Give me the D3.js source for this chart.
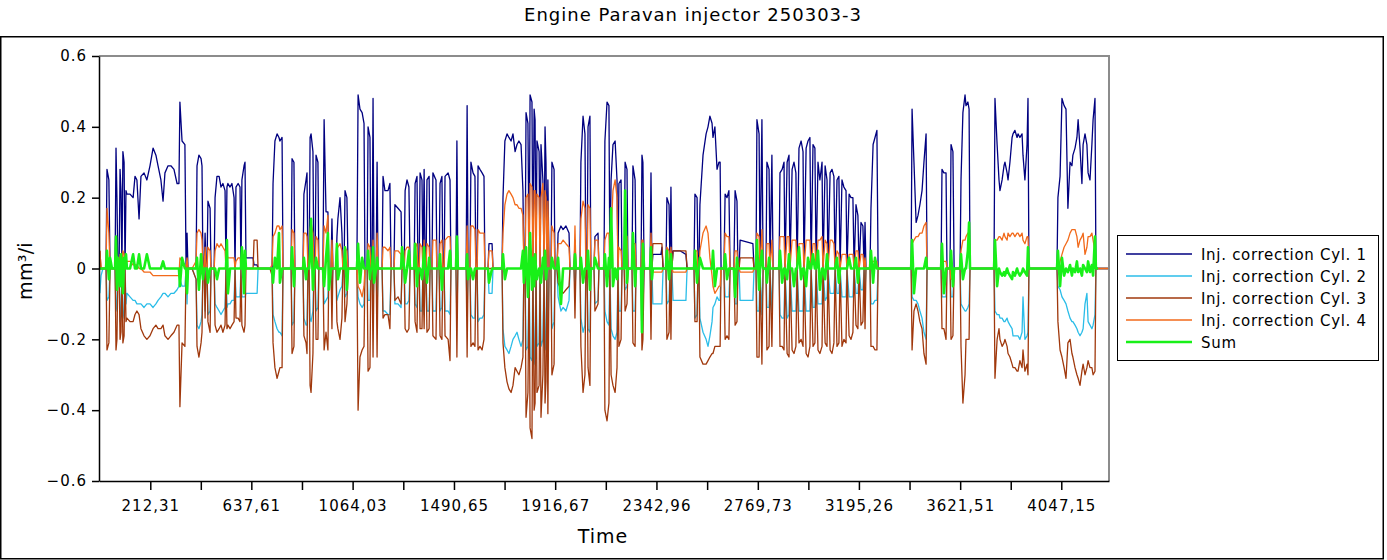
<!DOCTYPE html>
<html><head><meta charset="utf-8">
<script src="https://cdn.jsdelivr.net/npm/d3@7"></script>
<style>
body{margin:0;background:#fff;}
svg{display:block;font-family:"DejaVu Sans",Verdana,sans-serif;}
</style>
</head><body>
<svg id="chart" width="1387" height="560"></svg>
<script>
// ---------- chart text ----------
const chartTitle = "Engine Paravan injector 250303-3";
const xTitle = "Time";
const yTitle = "mm³/i";
const seriesNames = ["Inj. correction Cyl. 1","Inj. correction Cyl. 2","Inj. correction Cyl. 3","Inj. correction Cyl. 4","Sum"];
const seriesColors = ["#000080","#2bbde8","#a0380c","#f26a1b","#18f018"];
const seriesWidths = [1.3,1.3,1.3,1.3,2.6];

// ---------- ticks ----------
const yTickValues = [-0.6,-0.4,-0.2,0,0.2,0.4,0.6];
const xTickValues = [212.31,637.61,1064.03,1490.65,1916.67,2342.96,2769.73,3195.26,3621.51,4047.15];
const xTickLabels = ["212,31","637,61","1064,03","1490,65","1916,67","2342,96","2769,73","3195,26","3621,51","4047,15"];
const xMinorTicks = [424.96,850.82,1277.34,1703.66,2129.82,2556.35,2982.50,3408.39,3834.33];

// ---------- data (time, mm³/i) ----------
const time = [
0,5,13,26,30,38,43,51,64,68,72,76,81,85,89,93,97,102,106,110,
114,127,140,148,156,165,173,186,198,211,224,236,245,257,266,274,287,299,312,325,333,337,346,358,363,
367,371,388,405,409,417,426,430,434,439,443,447,451,455,464,468,481,485,493,502,510,518,527,531,535,539,548,556,565,569,573,582,590,594,598,607,611,615,632,645,649,662,666,
716,725,729,737,746,754,758,767,771,805,809,817,821,855,859,868,872,876,881,885,889,897,901,906,910,918,922,939,944,952,960,964,973,977,981,994,998,1002,1011,1019,1023,1028,1032,1040,1045,
1082,1087,1095,1104,1112,1116,1125,1129,1137,1141,1146,1150,1154,1163,1167,1171,1188,1192,1200,1213,1221,1226,1238,1242,1255,1268,1272,1281,1285,1293,1301,1306,
1323,1327,1335,1339,1344,1348,1356,1360,1365,1369,1373,1377,1386,1390,1398,1402,1415,1419,1428,1432,1440,1444,1449,1453,1466,1474,1478,1499,1503,1507,1512,1542,1546,1550,1558,1562,1571,1579,1583,1588,1592,1600,1609,1617,1621,1634,1638,1651,1655,
1693,1697,1705,1714,1722,1731,1739,1748,1756,1764,1773,1781,1785,1790,1794,1802,1807,1811,1819,1823,1828,1832,1836,1840,1849,1853,1857,1865,1870,1874,1878,1882,1886,1891,1899,1903,1912,1916,
1924,1929,1941,1950,1962,1975,1979,1996,2000,2004,2021,2025,2034,2042,2046,2051,2055,2063,2067,2080,2084,2097,2101,
2122,2126,2135,2143,2147,2152,2160,2169,2177,2181,2185,2194,2198,2207,2211,2219,2223,2240,2244,2253,2257,2278,2282,2286,2291,2316,2320,2324,2328,2362,2366,2371,2383,2387,2396,2400,2404,2408,2413,2442,2467,2472,2501,2505,2514,2518,
2522,2526,2539,2552,2560,2568,2577,2581,2589,2598,2606,2611,2615,2627,2632,2640,2648,2653,2669,2674,2682,2686,2691,2695,2749,2754,
2762,2766,2775,2779,2787,2792,2804,2808,2817,2821,2829,2834,2859,2863,2872,2880,2884,2893,2901,2905,2914,2922,2930,2935,2943,2952,2960,2964,2973,2981,2989,2994,3002,3010,3015,3023,3031,3040,3044,3053,3061,3065,3074,3082,3090,3095,3103,3111,3116,3124,3132,3141,3145,3154,3162,3170,3175,
3183,3191,3196,3204,3212,3217,3221,3225,3242,3246,3255,3263,3271,3276,3415,
3419,3427,3436,3444,3452,3461,3469,3478,3482,3541,
3545,3553,3562,3566,3579,3583,3591,3596,3621,3625,3633,3642,3646,3654,3659,3663,3764,
3768,3777,3785,3789,3798,3806,3810,3819,3823,3831,3840,3844,3852,3861,3865,3873,3882,3886,3894,3903,3907,3911,4029,
4033,4042,4050,4059,4067,4075,4084,4092,4096,4105,4113,4118,4126,4134,4139,4147,4155,4160,4168,4176,4181,4189,4193,4202,4244
];

const cyl1 = [
0,0,0,0,.28,.25,0,0,0,.34,.20,0,0,.28,.22,0,.33,.30,0,.22,
.21,.21,.20,.26,.25,.14,.26,.27,.25,.29,.34,.32,.29,.25,.19,.27,.29,.29,.28,.24,.24,.47,.36,.35,0,
.10,0,0,0,.29,.32,.31,.29,0,0,.10,0,0,.19,.17,0,0,.20,.26,.26,.23,.24,.22,0,.23,.24,.23,.24,.20,0,.23,.24,.23,0,.25,.29,.30,.03,.03,.03,.01,.01,0,
0,0,.24,.36,.38,.37,.36,.37,0,0,.31,.30,0,0,.21,.25,.27,0,0,.37,.38,.33,0,0,.32,.30,0,0,.42,.16,.16,0,0,.14,0,0,.09,.14,.20,.10,0,0,.22,.20,0,
0,.49,.45,.44,.41,0,0,.40,.37,0,0,.48,0,0,.30,0,0,.26,.22,.22,.24,0,0,.18,.17,.16,0,0,.22,.25,.23,0,
0,.24,.26,0,0,.27,.25,0,.28,0,0,.25,.26,0,0,.27,.25,0,0,.24,.26,0,0,.26,.27,.25,0,0,.36,0,0,0,.46,0,0,.30,.27,.26,0,0,.29,.28,.27,.26,0,0,.07,.07,0,
0,.20,.36,.38,.37,.36,.38,.33,.35,.36,.35,.22,0,0,.44,.41,0,.49,.47,0,.45,.42,0,.36,.33,0,.35,.25,0,.40,.30,0,.25,0,0,.30,.28,0,
0,.10,.12,.11,.12,.10,0,0,.08,0,0,.30,.43,.38,0,0,.40,.43,0,0,.09,.10,0,
0,.36,.47,.46,0,.25,.35,.36,.25,0,.24,.25,0,0,.30,.28,0,0,.29,.25,0,0,.32,.30,0,0,.27,0,.04,.04,.06,0,0,.20,.18,0,.23,0,.05,.05,.04,0,0,.21,.20,0,
0,.18,.32,.38,.40,.43,.41,.37,.40,.28,.30,.30,0,0,.21,.20,.22,0,0,.22,.19,0,0,.08,.07,0,
0,.42,.38,0,.42,0,0,.30,.28,0,.32,0,0,.27,.28,.30,0,.30,.32,0,.28,.30,.27,0,.34,.36,.33,0,.34,.36,.37,0,.35,.34,0,.30,.25,.30,0,.29,.25,0,.27,.28,.26,0,.25,.26,0,.25,.23,.22,0,.21,.20,.20,0,
.18,.15,0,.13,.12,0,.13,0,0,.17,.35,.37,.39,0,0,
.45,.30,.13,.15,.18,.22,.30,.38,0,0,
.28,.27,.27,0,0,.35,.33,0,0,.25,.44,.49,.46,.47,.45,0,0,
.48,.35,.25,.22,.25,.29,.30,.27,.25,.30,.37,.38,.39,.37,.38,.37,.38,.32,.25,.35,.48,0,0,
.20,.26,.48,.46,.45,.17,.30,.29,.32,.34,.37,.42,.34,.24,.35,.38,.35,.27,.25,.35,.42,.48,0,0,0
];

const cyl2 = [
-.07,-.02,0,0,-.09,-.08,0,0,0,-.12,-.10,0,0,-.15,-.12,0,-.14,-.12,0,-.10,
-.07,-.08,-.09,-.09,-.10,-.10,-.10,-.11,-.10,-.10,-.11,-.10,-.09,-.08,-.07,-.07,-.08,-.07,-.07,-.06,-.05,-.03,-.05,-.05,0,
-.10,0,0,-.03,-.16,-.17,-.15,-.13,0,0,-.12,0,0,-.13,-.12,0,0,-.10,-.11,-.12,-.13,-.12,-.11,0,-.11,-.10,-.10,-.09,-.09,0,-.08,-.08,-.08,0,-.08,-.08,-.08,-.07,-.07,-.07,-.07,-.07,0,
0,0,-.13,-.15,-.17,-.18,-.18,-.19,0,0,-.16,-.15,0,0,-.14,-.16,-.16,0,0,-.14,-.15,-.12,0,0,-.12,-.11,0,0,-.10,-.09,-.08,0,0,-.07,0,0,-.09,-.08,-.06,-.05,0,0,-.08,-.07,0,
0,-.08,-.10,-.11,-.10,0,0,-.09,-.09,0,0,-.11,0,0,-.12,0,0,-.12,-.12,-.13,-.13,0,0,-.10,-.10,-.11,0,0,-.10,-.10,-.09,0,
0,-.10,-.11,0,0,-.12,-.12,0,-.13,0,0,-.12,-.12,0,0,-.12,-.12,0,0,-.12,-.11,0,0,-.12,-.12,-.13,0,0,-.14,0,0,0,-.13,0,0,-.13,-.14,-.14,0,0,-.15,-.14,-.14,-.13,0,0,-.07,-.07,0,
0,-.17,-.22,-.23,-.24,-.22,-.20,-.19,-.18,-.20,-.22,-.20,0,0,-.23,-.22,0,-.25,-.26,0,-.27,-.24,0,-.22,-.21,0,-.22,-.20,0,-.23,-.21,0,-.20,0,0,-.17,-.15,0,
0,-.08,-.12,-.11,-.12,-.09,0,0,-.06,0,0,-.14,-.18,-.16,0,0,-.17,-.18,0,0,-.10,-.09,0,
0,-.12,-.15,-.16,0,-.17,-.19,-.20,-.18,0,-.12,-.12,0,0,-.06,-.05,0,0,-.12,-.12,0,0,-.13,-.12,0,0,-.10,0,-.10,-.10,-.10,0,0,-.10,-.09,0,-.10,0,-.09,-.09,-.09,0,0,-.14,-.13,0,
0,-.14,-.18,-.20,-.22,-.19,-.15,-.11,-.10,-.08,-.09,-.09,0,0,-.08,-.08,-.08,0,0,-.10,-.10,0,0,-.09,-.09,0,
0,-.12,-.12,0,-.13,0,0,-.11,-.11,0,-.12,0,0,-.13,-.14,-.14,0,-.14,-.13,0,-.12,-.12,-.12,0,-.12,-.12,-.12,0,-.12,-.12,-.12,0,-.11,-.11,0,-.10,-.10,-.10,0,-.09,-.08,0,-.07,-.07,-.07,0,-.07,-.07,0,-.08,-.08,-.08,0,-.08,-.08,-.08,0,
-.07,-.07,0,-.06,-.06,0,-.06,0,0,-.10,-.10,-.09,-.09,0,0,
-.08,-.09,-.09,-.10,-.12,-.14,-.18,-.20,0,0,
-.08,-.08,-.08,0,0,-.08,-.08,0,0,-.10,-.11,-.12,-.12,-.11,-.10,0,0,
-.12,-.13,-.13,-.14,-.14,-.15,-.15,-.14,-.15,-.16,-.17,-.19,-.19,-.19,-.19,-.20,-.18,-.08,-.20,-.19,-.18,0,0,
-.05,-.06,-.08,-.09,-.10,-.12,-.14,-.15,-.15,-.16,-.17,-.18,-.19,-.18,-.17,-.10,-.07,-.15,-.16,-.17,-.16,-.13,0,0,0
];

const cyl3 = [
.05,0,0,0,-.23,-.21,0,0,0,-.23,-.20,0,0,-.20,-.18,0,-.21,-.19,0,-.15,
-.14,-.15,-.15,-.13,-.12,-.13,-.17,-.19,-.20,-.19,-.17,-.16,-.17,-.17,-.16,-.19,-.20,-.19,-.18,-.16,-.16,-.39,-.21,-.22,0,
-.05,0,0,-.03,-.22,-.25,-.21,-.18,0,0,-.14,0,0,-.15,-.18,0,0,-.16,-.18,-.17,-.16,-.18,-.16,0,-.17,-.16,-.17,-.16,-.15,0,-.14,-.14,-.15,0,-.16,-.18,-.16,0,0,0,.08,.08,0,
0,-.02,-.21,-.28,-.31,-.29,-.28,-.28,0,0,-.24,-.22,0,0,-.19,-.21,-.24,0,0,-.33,-.35,-.24,0,0,-.20,-.20,0,0,-.23,-.18,-.23,0,0,-.17,0,0,-.15,-.17,-.20,-.14,0,0,-.15,-.10,0,
0,-.40,-.25,-.23,-.22,0,0,-.29,-.28,0,0,-.25,0,0,-.25,0,0,-.14,-.13,-.13,-.17,0,0,-.09,-.08,-.10,0,0,-.17,-.18,-.17,0,
0,-.15,-.18,0,0,-.17,-.17,0,-.17,0,0,-.18,-.17,0,0,-.19,-.20,0,0,-.19,-.20,0,0,-.19,-.20,-.26,0,0,-.25,0,0,0,-.25,0,0,-.22,-.21,-.22,0,0,-.23,-.22,-.23,-.20,0,0,0,0,0,
0,-.21,-.28,-.32,-.34,-.35,-.33,-.28,-.29,-.30,-.28,-.25,0,0,-.42,-.35,0,-.45,-.48,0,-.40,-.38,0,-.35,-.33,0,-.42,-.30,0,-.38,-.32,0,-.41,0,0,-.30,-.27,0,
0,-.04,-.06,-.07,-.06,-.05,0,0,-.14,0,0,-.22,-.35,-.30,0,0,-.28,-.33,0,0,-.12,-.10,0,
0,-.40,-.43,-.38,0,-.30,-.33,-.35,-.28,0,-.22,-.20,0,0,-.12,-.10,0,0,-.21,-.22,0,0,-.23,-.20,0,0,-.20,0,.07,.07,.07,0,0,-.20,-.18,0,-.20,0,.05,.05,.05,0,0,-.15,-.15,0,
0,-.25,-.27,-.27,-.26,-.25,-.24,-.24,-.22,-.22,-.22,-.22,0,0,-.20,-.19,-.20,0,0,-.16,-.15,0,0,.03,.03,0,
0,-.25,-.25,0,-.27,0,0,-.23,-.22,0,-.22,0,0,-.22,-.22,-.23,0,-.24,-.25,0,-.23,-.24,-.22,0,-.21,-.20,-.22,0,-.24,-.25,-.22,0,-.22,-.21,0,-.23,-.24,-.22,0,-.21,-.22,0,-.23,-.24,-.21,0,-.22,-.21,0,-.22,-.20,-.21,0,-.19,-.20,-.18,0,
-.16,-.17,0,-.16,-.15,0,-.17,0,0,-.22,-.22,-.23,-.23,0,0,
-.23,-.12,-.10,-.12,-.15,-.17,-.24,-.27,0,0,
-.17,-.17,-.20,0,0,-.20,-.19,0,0,-.22,-.38,-.30,-.20,-.20,-.20,0,0,
-.31,-.20,-.17,-.20,-.22,-.21,-.20,-.22,-.24,-.25,-.27,-.28,-.28,-.29,-.29,-.26,-.28,-.23,-.29,-.27,-.30,0,0,
-.15,-.23,-.25,-.28,-.31,-.21,-.20,-.24,-.25,-.28,-.30,-.31,-.33,-.29,-.27,-.30,-.28,-.26,-.28,-.28,-.30,-.29,0,0,0
];

const cyl4 = [
.05,0,0,0,.17,.10,0,0,0,.05,.03,0,0,.04,.03,0,.05,.04,0,.02,
.02,.02,.01,.01,.01,0,0,-.01,-.01,-.01,-.02,-.02,-.02,-.02,-.02,-.02,-.02,-.02,-.02,-.02,-.02,.03,.02,.01,0,
.03,0,0,.02,.10,.11,.10,.08,0,0,.06,0,0,.06,.05,0,0,.05,.07,.06,.07,.06,.05,0,.04,.03,.03,.03,.03,0,.02,.03,.03,0,.03,.04,.04,0,0,0,0,0,0,
0,.01,.09,.10,.12,.12,.11,.12,0,0,.11,.10,0,0,.10,.10,.09,0,0,.11,.13,.10,0,0,.09,.08,0,0,.12,.10,.15,0,0,.08,0,0,.06,.06,.07,.05,0,0,.06,.05,0,
0,-.05,-.06,-.08,-.05,0,0,.07,.06,0,0,.08,0,0,.10,0,0,.06,.06,.05,.06,0,0,.05,.05,.04,0,0,.05,.06,.06,0,
0,.06,.07,0,0,.07,.06,0,.08,0,0,.07,.06,0,0,.08,.08,0,0,.07,.08,0,0,.08,.09,.09,0,0,.09,0,0,0,.12,0,0,.12,.12,.11,0,0,.11,.10,.10,.10,0,0,.05,.05,0,
0,.10,.18,.21,.22,.21,.20,.18,.18,.17,.17,.15,0,0,.20,.21,0,.24,.23,0,.22,.22,0,.21,.20,0,.20,.24,0,.22,.20,0,.19,0,0,.12,.10,0,
0,.07,.07,.08,.07,.06,0,0,.12,0,0,.14,.19,.17,0,0,.18,.17,0,0,.08,.08,0,
0,.08,.10,.10,0,.10,.22,.25,.20,0,.06,.05,0,0,.10,.09,0,0,.07,.07,0,0,.08,.08,0,0,.10,0,-.01,-.01,-.01,0,0,.06,.05,0,.06,0,-.01,-.01,-.01,0,0,.05,.05,0,
0,.05,.10,.12,.10,.03,-.02,-.05,-.07,-.06,-.05,-.05,0,0,.10,.09,.09,0,0,.05,.05,0,0,-.01,-.01,0,
0,.10,.09,0,.11,0,0,.07,.07,0,.08,0,0,.09,.09,.09,0,.09,.09,0,.08,.08,.08,0,.07,.07,.07,0,.08,.08,.08,0,.07,.07,0,.08,.08,.09,0,.08,.07,0,.08,.08,.07,0,.05,.04,0,.04,.04,.04,0,.04,.04,.04,0,
.05,.05,0,.04,.04,0,.03,0,0,.02,.02,.02,.02,0,0,
.07,.08,.09,.09,.10,.10,.12,.13,0,0,
.02,.02,.02,0,0,-.03,-.03,0,0,.05,.08,.08,.09,.10,.10,0,0,
.08,.08,.09,.09,.08,.10,.09,.08,.10,.09,.10,.10,.09,.10,.10,.09,.10,.08,.07,.09,.09,0,0,
0,.02,.04,.06,.07,.08,.10,.11,.11,.11,.09,.06,.08,.09,.10,.04,.06,.09,.09,.10,.08,.05,0,0,0
];

const sum = [
0,0,0,0,.05,-.03,.03,0,0,.09,-.06,.03,0,-.05,.04,0,-.07,.03,0,.04,
0,0,.04,0,0,.04,0,0,.04,0,0,0,0,0,.02,0,0,0,0,0,0,-.05,.03,0,0,
-.07,0,0,0,.03,-.06,.04,0,-.03,0,0,0,0,-.04,0,0,0,0,-.03,0,0,0,0,0,.08,-.07,0,0,0,0,0,0,0,0,.06,-.07,.05,0,0,0,0,0,0,
0,0,-.04,.03,0,.10,-.04,0,0,0,.06,-.05,0,0,.03,-.03,0,0,0,.04,.14,-.06,0,0,.03,0,0,0,-.05,.03,.10,-.06,0,0,0,0,.07,-.03,0,0,0,0,.06,-.06,0,
0,.07,-.04,.03,0,0,0,.05,-.03,0,0,.06,-.04,0,.03,0,0,0,0,0,0,0,0,0,0,0,.06,0,-.04,0,.05,0,
0,.07,-.05,0,0,0,-.03,0,.06,0,0,-.04,.03,0,0,0,0,0,0,.04,-.06,0,0,0,0,.05,0,0,.09,0,0,0,.04,-.03,0,0,-.03,0,0,0,0,0,0,0,0,0,-.04,0,0,
0,.04,-.03,0,0,0,0,0,0,0,0,.05,-.04,0,.06,-.08,0,.10,-.06,.03,-.05,.04,0,-.03,0,0,-.04,.03,0,.05,-.03,0,0,0,0,.03,0,0,
0,.03,-.10,0,0,0,0,0,.04,0,0,.03,-.04,0,0,0,.05,-.06,0,0,.03,0,0,
0,.04,-.05,.03,0,.17,-.05,0,-.03,0,0,0,0,0,.22,-.04,0,0,.10,-.05,0,0,-.18,.07,0,0,.06,-.03,0,0,0,0,0,.05,-.03,0,.04,0,0,0,0,0,0,.05,-.04,0,
0,.03,0,0,0,0,0,.05,-.05,0,0,0,0,0,.04,-.03,0,0,0,-.08,.03,0,0,0,0,0,
0,.08,-.06,0,.05,0,0,-.04,.03,0,0,0,0,.05,-.04,0,0,-.03,.04,0,0,-.05,0,0,.06,-.03,0,0,-.05,.03,0,0,.04,0,0,.05,-.06,0,0,-.03,.04,0,0,0,0,0,.03,-.04,0,0,0,0,0,.03,0,0,0,
.03,-.04,0,0,0,0,0,0,0,.05,-.04,.03,0,0,0,
.08,-.07,0,0,0,0,0,.03,0,0,
.07,-.07,0,0,0,.05,-.05,0,0,.04,-.03,0,0,.05,.13,0,0,
.08,-.05,0,-.01,-.02,-.01,-.02,0,-.01,-.02,-.03,-.01,-.02,0,-.01,-.02,-.01,0,-.01,-.02,.06,0,0,
.05,-.05,.03,-.02,0,-.01,.01,-.02,0,-.01,.02,-.01,0,-.02,.01,0,-.01,.02,-.01,.01,-.02,.09,0,0,null
];

const seriesValues = [cyl1, cyl2, cyl3, cyl4, sum];
seriesValues.forEach((a,i)=>{ if(a.length!==time.length) console.error("length mismatch", seriesNames[i], a.length, time.length); });

// ---------- layout ----------
const plot = {left:99, right:1109, top:56, bottom:481};
const svg = d3.select("#chart");

svg.append("rect").attr("x",0.75).attr("y",36.75).attr("width",1382.5).attr("height",522)
  .attr("fill","#fff").attr("stroke","#000").attr("stroke-width",1.5);

const x = d3.scaleLinear().domain([-3.6, 4248]).range([plot.left, plot.right]);
const y = d3.scaleLinear().domain([-0.6, 0.6]).range([plot.bottom, plot.top]);

// title
svg.append("text").attr("x",693).attr("y",21).attr("text-anchor","middle")
  .attr("font-size","18px").attr("letter-spacing","1px").attr("fill","#000").text(chartTitle);

// clip
svg.append("defs").append("clipPath").attr("id","plotclip").append("rect")
  .attr("x",plot.left).attr("y",plot.top).attr("width",plot.right-plot.left).attr("height",plot.bottom-plot.top);

// top/right frame (gray)
svg.append("path").attr("d",`M${plot.left},${plot.top}H${plot.right}V${plot.bottom}`)
  .attr("fill","none").attr("stroke","#8c8c8c").attr("stroke-width",2);

// series lines
const g = svg.append("g").attr("clip-path","url(#plotclip)");
seriesValues.forEach((vals,si)=>{
  const pts = time.map((t,i)=>({t, v: vals[i]}));
  const line = d3.line().defined(d=>d.v!==null && d.v!==undefined)
    .x(d=>x(d.t)).y(d=>y(d.v));
  g.append("path").datum(pts).attr("d",line).attr("fill","none")
    .attr("stroke",seriesColors[si]).attr("stroke-width",seriesWidths[si])
    .attr("stroke-linejoin","round");
});

// y axis
const yAxis = d3.axisLeft(y).tickValues(yTickValues).tickSize(7).tickSizeOuter(0).tickPadding(5)
  .tickFormat(d => d===0 ? "0" : d3.format(".1f")(d));
const yg = svg.append("g").attr("transform",`translate(${plot.left},0)`).call(yAxis);
yg.selectAll("text").attr("font-size","15px").attr("letter-spacing","1px").attr("fill","#000").attr("font-family","DejaVu Sans");
yg.selectAll("line,path").attr("stroke","#000").attr("stroke-width",1.5);

// x axis
const xAxis = d3.axisBottom(x).tickValues(xTickValues).tickSize(9).tickSizeOuter(0).tickPadding(10)
  .tickFormat((d,i)=>xTickLabels[i]);
const xg = svg.append("g").attr("transform",`translate(0,${plot.bottom})`).call(xAxis);
xg.selectAll("text").attr("font-size","15px").attr("letter-spacing","1px").attr("fill","#000").attr("font-family","DejaVu Sans");
xg.selectAll("line,path").attr("stroke","#000").attr("stroke-width",1.5);
const xmg = svg.append("g").attr("transform",`translate(0,${plot.bottom})`)
  .call(d3.axisBottom(x).tickValues(xMinorTicks).tickSize(9).tickSizeOuter(0).tickFormat(""));
xmg.select("path").remove();
xmg.selectAll("line").attr("stroke","#000").attr("stroke-width",1.5);

// axis titles
svg.append("text").attr("x",603).attr("y",543).attr("text-anchor","middle")
  .attr("font-size","19px").attr("letter-spacing","1px").attr("fill","#000").text(xTitle);
svg.append("text").attr("transform","translate(32,271) rotate(-90)").attr("text-anchor","middle")
  .attr("font-size","19px").attr("letter-spacing","0.3px").attr("fill","#000").text(yTitle);

// legend
const lg = svg.append("g");
lg.append("rect").attr("x",1117.5).attr("y",235.5).attr("width",261).attr("height",125)
  .attr("fill","#fff").attr("stroke","#000").attr("stroke-width",1);
seriesNames.forEach((name,i)=>{
  const yy = 254 + i*22;
  lg.append("line").attr("x1",1126).attr("x2",1192).attr("y1",yy).attr("y2",yy)
    .attr("stroke",seriesColors[i]).attr("stroke-width", i===4 ? 2.6 : 1.3);
  lg.append("text").attr("x",1201).attr("y",yy+5.5).attr("font-size","15px")
    .attr("letter-spacing","0.7px").attr("fill","#000").text(name);
});
</script>
</body></html>
